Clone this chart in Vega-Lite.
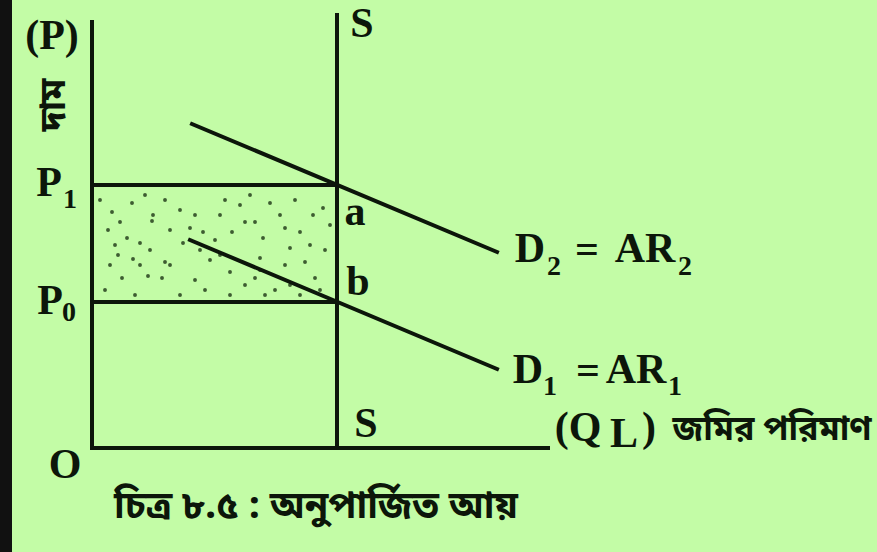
{
  "$schema": "https://vega.github.io/schema/vega-lite/v6.json",
  "width": 877,
  "height": 552,
  "autosize": {"type": "fit", "contains": "padding"},
  "padding": {"left": 12, "top": 0, "right": 0, "bottom": 0},
  "background": "#111111",
  "config": {"view": {"stroke": null, "fill": "#c3fca6"}},
  "datasets": {
    "segments": [
      {"name": "price axis", "x": 0, "y": 0, "x2": 0, "y2": 426},
      {"name": "quantity axis", "x": 0, "y": 0, "x2": 456, "y2": 0},
      {"name": "supply S", "x": 245, "y": 0, "x2": 245, "y2": 433},
      {"name": "P1", "x": 0, "y": 263, "x2": 245, "y2": 263},
      {"name": "P0", "x": 0, "y": 146, "x2": 245, "y2": 146},
      {"name": "D2", "x": 100, "y": 324, "x2": 405, "y2": 196},
      {"name": "D1", "x": 98, "y": 208, "x2": 405, "y2": 79}
    ],
    "stipple": [
      {"x": 40, "y": 245}, {"x": 61, "y": 233}, {"x": 28, "y": 226}, {"x": 60, "y": 227},
      {"x": 78, "y": 218}, {"x": 35, "y": 210}, {"x": 23, "y": 203}, {"x": 48, "y": 205},
      {"x": 73, "y": 186}, {"x": 41, "y": 189}, {"x": 56, "y": 172}, {"x": 30, "y": 170},
      {"x": 70, "y": 170}, {"x": 13, "y": 158}, {"x": 43, "y": 153}, {"x": 88, "y": 238},
      {"x": 103, "y": 233}, {"x": 111, "y": 216}, {"x": 91, "y": 205}, {"x": 118, "y": 188},
      {"x": 148, "y": 243}, {"x": 153, "y": 226}, {"x": 140, "y": 216}, {"x": 163, "y": 226},
      {"x": 171, "y": 210}, {"x": 178, "y": 245}, {"x": 193, "y": 220}, {"x": 208, "y": 216},
      {"x": 221, "y": 233}, {"x": 231, "y": 240}, {"x": 198, "y": 200}, {"x": 213, "y": 186},
      {"x": 223, "y": 170}, {"x": 163, "y": 170}, {"x": 153, "y": 163}, {"x": 138, "y": 176},
      {"x": 183, "y": 158}, {"x": 198, "y": 163}, {"x": 113, "y": 158}, {"x": 88, "y": 153},
      {"x": 128, "y": 233}, {"x": 18, "y": 183}, {"x": 58, "y": 198}, {"x": 233, "y": 198},
      {"x": 168, "y": 190}, {"x": 8, "y": 248}, {"x": 20, "y": 236}, {"x": 53, "y": 253},
      {"x": 73, "y": 248}, {"x": 98, "y": 220}, {"x": 123, "y": 208}, {"x": 133, "y": 248},
      {"x": 158, "y": 253}, {"x": 188, "y": 233}, {"x": 203, "y": 248}, {"x": 218, "y": 203},
      {"x": 228, "y": 158}, {"x": 208, "y": 153}, {"x": 173, "y": 153}, {"x": 138, "y": 153},
      {"x": 103, "y": 168}, {"x": 78, "y": 183}, {"x": 48, "y": 183}, {"x": 26, "y": 193},
      {"x": 16, "y": 218}, {"x": 168, "y": 178}, {"x": 193, "y": 183}, {"x": 128, "y": 193},
      {"x": 108, "y": 198}, {"x": 238, "y": 223}
    ],
    "labels": [
      {"role": "main", "text": "(P)", "x": -40, "y": 412},
      {"role": "main", "text": "P", "x": -43, "y": 265},
      {"role": "sub", "text": "1", "x": -22, "y": 248},
      {"role": "main", "text": "P", "x": -42, "y": 147},
      {"role": "sub", "text": "0", "x": -23, "y": 135},
      {"role": "main", "text": "O", "x": -27, "y": -17},
      {"role": "main", "text": "S", "x": 270, "y": 424},
      {"role": "main", "text": "S", "x": 274, "y": 24},
      {"role": "main", "text": "a", "x": 263, "y": 236},
      {"role": "main", "text": "b", "x": 266, "y": 166},
      {"role": "main", "text": "D", "x": 438, "y": 199},
      {"role": "sub", "text": "2", "x": 462, "y": 181},
      {"role": "main", "text": "=", "x": 495, "y": 198},
      {"role": "main", "text": "AR", "x": 553, "y": 199},
      {"role": "sub", "text": "2", "x": 593, "y": 181},
      {"role": "main", "text": "D", "x": 436, "y": 78},
      {"role": "sub", "text": "1", "x": 458, "y": 61},
      {"role": "main", "text": "=", "x": 496, "y": 77},
      {"role": "main", "text": "AR", "x": 544, "y": 78},
      {"role": "sub", "text": "1", "x": 583, "y": 61},
      {"role": "main", "text": "(Q", "x": 486, "y": 20},
      {"role": "main", "text": "L", "x": 532, "y": 14},
      {"role": "main", "text": ")", "x": 557, "y": 20},
      {"role": "bn", "text": "জমির পরিমাণ", "x": 680, "y": 18},
      {"role": "caption", "text": "চিত্র ৮.৫ : অনুপার্জিত আয়", "x": 224, "y": -59},
      {"role": "bn_rot", "text": "দাম", "x": -38, "y": 343}
    ]
  },
  "layer": [
    {
      "data": {"name": "stipple"},
      "mark": {"type": "point", "filled": true, "size": 15, "color": "#1c3314", "opacity": 0.8},
      "encoding": {
        "x": {"field": "x", "type": "quantitative", "scale": {"domain": [-80, 785], "nice": false, "zero": false}, "axis": null},
        "y": {"field": "y", "type": "quantitative", "scale": {"domain": [-104, 448], "nice": false, "zero": false}, "axis": null}
      }
    },
    {
      "data": {"name": "segments"},
      "mark": {"type": "rule", "color": "#0c160a", "strokeWidth": 4, "strokeCap": "square"},
      "encoding": {
        "x": {"field": "x", "type": "quantitative", "scale": {"domain": [-80, 785], "nice": false, "zero": false}, "axis": null},
        "y": {"field": "y", "type": "quantitative", "scale": {"domain": [-104, 448], "nice": false, "zero": false}, "axis": null},
        "x2": {"field": "x2"},
        "y2": {"field": "y2"}
      }
    },
    {
      "data": {"name": "labels"},
      "transform": [{"filter": "datum.role === 'main'"}],
      "mark": {"type": "text", "font": "Liberation Serif", "fontWeight": "bold", "fontSize": 42, "align": "center", "baseline": "middle", "color": "#0c160a"},
      "encoding": {
        "x": {"field": "x", "type": "quantitative", "scale": {"domain": [-80, 785], "nice": false, "zero": false}, "axis": null},
        "y": {"field": "y", "type": "quantitative", "scale": {"domain": [-104, 448], "nice": false, "zero": false}, "axis": null},
        "text": {"field": "text"}
      }
    },
    {
      "data": {"name": "labels"},
      "transform": [{"filter": "datum.role === 'sub'"}],
      "mark": {"type": "text", "font": "Liberation Serif", "fontWeight": "bold", "fontSize": 28, "align": "center", "baseline": "middle", "color": "#0c160a"},
      "encoding": {
        "x": {"field": "x", "type": "quantitative", "scale": {"domain": [-80, 785], "nice": false, "zero": false}, "axis": null},
        "y": {"field": "y", "type": "quantitative", "scale": {"domain": [-104, 448], "nice": false, "zero": false}, "axis": null},
        "text": {"field": "text"}
      }
    },
    {
      "data": {"name": "labels"},
      "transform": [{"filter": "datum.role === 'bn'"}],
      "mark": {"type": "text", "font": "Noto Sans Bengali, Noto Serif Bengali, Lohit Bengali, sans-serif", "fontWeight": "bold", "fontSize": 34, "align": "center", "baseline": "middle", "color": "#0c160a"},
      "encoding": {
        "x": {"field": "x", "type": "quantitative", "scale": {"domain": [-80, 785], "nice": false, "zero": false}, "axis": null},
        "y": {"field": "y", "type": "quantitative", "scale": {"domain": [-104, 448], "nice": false, "zero": false}, "axis": null},
        "text": {"field": "text"}
      }
    },
    {
      "data": {"name": "labels"},
      "transform": [{"filter": "datum.role === 'caption'"}],
      "mark": {"type": "text", "font": "Noto Sans Bengali, Noto Serif Bengali, Lohit Bengali, sans-serif", "fontWeight": "bold", "fontSize": 38, "align": "center", "baseline": "middle", "color": "#0c160a"},
      "encoding": {
        "x": {"field": "x", "type": "quantitative", "scale": {"domain": [-80, 785], "nice": false, "zero": false}, "axis": null},
        "y": {"field": "y", "type": "quantitative", "scale": {"domain": [-104, 448], "nice": false, "zero": false}, "axis": null},
        "text": {"field": "text"}
      }
    },
    {
      "data": {"name": "labels"},
      "transform": [{"filter": "datum.role === 'bn_rot'"}],
      "mark": {"type": "text", "font": "Noto Sans Bengali, Noto Serif Bengali, Lohit Bengali, sans-serif", "fontWeight": "bold", "fontSize": 36, "angle": 270, "align": "center", "baseline": "middle", "color": "#0c160a"},
      "encoding": {
        "x": {"field": "x", "type": "quantitative", "scale": {"domain": [-80, 785], "nice": false, "zero": false}, "axis": null},
        "y": {"field": "y", "type": "quantitative", "scale": {"domain": [-104, 448], "nice": false, "zero": false}, "axis": null},
        "text": {"field": "text"}
      }
    }
  ]
}
